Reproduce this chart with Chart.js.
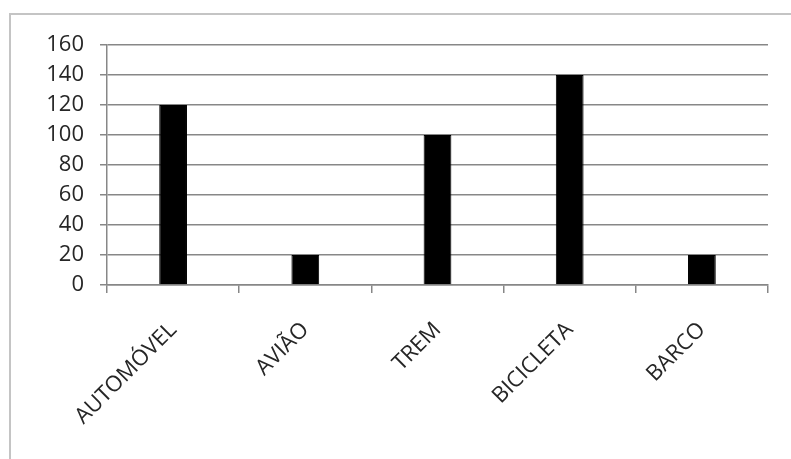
<!DOCTYPE html>
<html>
<head>
<meta charset="utf-8">
<script src="https://cdn.jsdelivr.net/npm/chart.js@4.4.1/dist/chart.umd.min.js"></script>
<style>
  html, body { margin: 0; padding: 0; background: #fff; }
  #wrap { position: relative; width: 791px; height: 459px; overflow: hidden; }
  #frame { position: absolute; left: 9px; top: 13px; width: 800px; height: 460px;
           border-left: 2px solid #c4c4c4; border-top: 2px solid #c4c4c4; }
  canvas { position: absolute; left: 0; top: 0; }
</style>
</head>
<body>
<div id="wrap">
  <div id="frame"></div>
  <canvas id="myChart" width="791" height="459"></canvas>
</div>
<script>
// dados do gráfico
const categories = ["AUTOMÓVEL", "AVIÃO", "TREM", "BICICLETA", "BARCO"];
const values = [120, 20, 100, 140, 20];
const yTicks = [0, 20, 40, 60, 80, 100, 120, 140, 160];

const gridColor = "#878787";
const textColor = "#262626";
const font = { family: "'Open Sans', sans-serif", size: 22 };

const ctx = document.getElementById("myChart");

new Chart(ctx, {
  type: "bar",
  data: {
    labels: categories,
    datasets: [{
      data: values,
      backgroundColor: "#000",
      borderColor: "#000",
      borderWidth: 1,
      barPercentage: 0.21,
      categoryPercentage: 1
    }]
  },
  options: {
    responsive: false,
    animation: false,
    layout: { padding: { top: 45, right: 23, left: 0, bottom: 0 } },
    plugins: { legend: { display: false }, tooltip: { enabled: false } },
    scales: {
      x: {
        offset: true,
        grid: {
          offset: true,
          drawOnChartArea: false,
          color: gridColor,
          lineWidth: 1.5,
          tickLength: 8
        },
        border: { color: gridColor, width: 1.5 },
        ticks: {
          color: textColor,
          font: font,
          minRotation: 45,
          maxRotation: 45,
          padding: 24
        },
        afterFit: (scale) => { scale.height = 174; }
      },
      y: {
        min: 0,
        max: 160,
        afterBuildTicks: (scale) => { scale.ticks = yTicks.map(v => ({ value: v })); },
        grid: { color: gridColor, lineWidth: 1.5, tickLength: 7 },
        border: { color: gridColor, width: 1.5 },
        ticks: { color: textColor, font: font, padding: 16 },
        afterFit: (scale) => { scale.width = 107; }
      }
    }
  }
});
</script>
</body>
</html>
